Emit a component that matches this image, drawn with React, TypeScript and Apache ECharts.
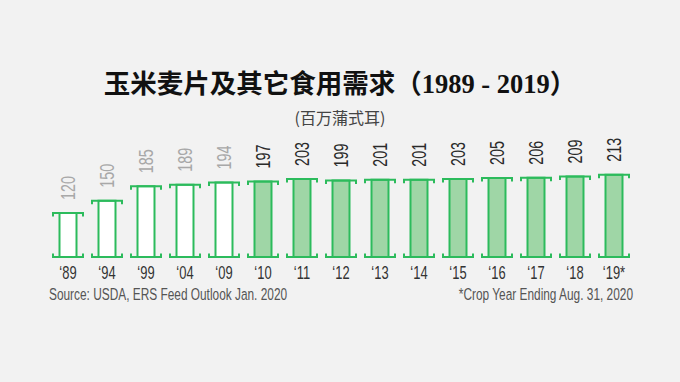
import React, { useEffect, useRef } from "react";
import * as echarts from "echarts";

const categories = ["‘89", "‘94", "‘99", "‘04", "‘09", "‘10", "‘11", "‘12", "‘13", "‘14", "‘15", "‘16", "‘17", "‘18", "‘19*"];
const values = [120, 150, 185, 189, 194, 197, 203, 199, 201, 201, 203, 205, 206, 209, 213];
const historic = [true, true, true, true, true, false, false, false, false, false, false, false, false, false, false];

const Y_MIN = 13;
const STROKE = "#2cbb5c";
const FILL = "#9fd6a6";
const NARROW = "'Liberation Sans', Arial, sans-serif";
const SQUEEZE = 0.72;

export default function App() {
  const ref = useRef<HTMLDivElement>(null);
  useEffect(() => {
    if (!ref.current) return;
    const chart = echarts.init(ref.current, undefined, { renderer: "svg" });
    const data = values.map((v, i) => [i, v, historic[i] ? 1 : 0]);
    chart.setOption({
      animation: false,
      backgroundColor: "#f2f2f2",
      grid: { left: 48.5, right: 46.5, top: 159.6, bottom: 125 },
      xAxis: {
        type: "category",
        data: categories,
        axisLine: { show: false },
        axisTick: { show: false },
        axisLabel: { show: false },
      },
      yAxis: { type: "value", min: Y_MIN, max: 250, show: false, splitLine: { show: false } },
      graphic: [
        {
          type: "text",
          x: 340,
          y: 84,
          style: {
            text: "玉米麦片及其它食用需求（1989 - 2019）",
            fontSize: 26.5,
            fontWeight: "bold",
            fontFamily: "'Liberation Serif', 'Noto Sans CJK SC', serif",
            fill: "#111",
            textAlign: "center",
            textVerticalAlign: "middle",
          },
        },
        {
          type: "text",
          x: 340,
          y: 116.5,
          style: {
            text: "(百万蒲式耳)",
            fontSize: 16,
            fontFamily: "'Noto Sans CJK SC', sans-serif",
            fill: "#444",
            textAlign: "center",
            textVerticalAlign: "middle",
          },
        },
        {
          type: "text",
          x: 49,
          y: 294,
          scaleX: SQUEEZE,
          style: {
            text: "Source: USDA, ERS Feed Outlook Jan. 2020",
            fontSize: 16.5,
            fontFamily: NARROW,
            fill: "#555",
            textAlign: "left",
            textVerticalAlign: "middle",
          },
        },
        {
          type: "text",
          x: 633,
          y: 294,
          scaleX: SQUEEZE,
          style: {
            text: "*Crop Year Ending Aug. 31, 2020",
            fontSize: 16.5,
            fontFamily: NARROW,
            fill: "#555",
            textAlign: "right",
            textVerticalAlign: "middle",
          },
        },
      ],
      series: [
        {
          type: "custom",
          data,
          encode: { x: 0, y: 1 },
          renderItem: (params: any, api: any) => {
            const idx = api.value(0);
            const v = api.value(1);
            const hist = api.value(2) === 1;
            const top = api.coord([idx, v]);
            const bot = api.coord([idx, Y_MIN]);
            const cx = top[0];
            const ty = top[1];
            const by = bot[1];
            const bw = 19;
            const cw = 30;
            const tick = 3.5;
            const lineStyle = { stroke: STROKE, lineWidth: 2, fill: null };
            return {
              type: "group",
              children: [
                {
                  type: "rect",
                  shape: { x: cx - bw / 2 + 1, y: ty, width: bw - 2, height: by - ty },
                  style: { fill: hist ? "#ffffff" : FILL, stroke: STROKE, lineWidth: 2 },
                },
                {
                  type: "polyline",
                  shape: {
                    points: [
                      [cx - cw / 2, ty + tick],
                      [cx - cw / 2, ty],
                      [cx + cw / 2, ty],
                      [cx + cw / 2, ty + tick],
                    ],
                  },
                  style: lineStyle,
                },
                {
                  type: "polyline",
                  shape: {
                    points: [
                      [cx - cw / 2, by - tick],
                      [cx - cw / 2, by],
                      [cx + cw / 2, by],
                      [cx + cw / 2, by - tick],
                    ],
                  },
                  style: lineStyle,
                },
                {
                  type: "text",
                  x: cx,
                  y: ty - 13,
                  rotation: Math.PI / 2,
                  scaleX: SQUEEZE,
                  style: {
                    text: String(v),
                    fontSize: 20,
                    fontFamily: NARROW,
                    fill: hist ? "#a8a8a8" : "#2a2a2a",
                    textAlign: "left",
                    textVerticalAlign: "middle",
                  },
                },
                {
                  type: "text",
                  x: cx,
                  y: by + 15.5,
                  scaleX: 0.74,
                  style: {
                    text: categories[idx],
                    fontSize: 17.5,
                    fontFamily: NARROW,
                    fill: "#333",
                    textAlign: "center",
                    textVerticalAlign: "middle",
                  },
                },
              ],
            };
          },
        },
      ],
    });
    return () => chart.dispose();
  }, []);
  return (
    <div
      ref={ref}
      style={{ position: "absolute", left: 0, top: 0, width: 680, height: 382 }}
    />
  );
}
